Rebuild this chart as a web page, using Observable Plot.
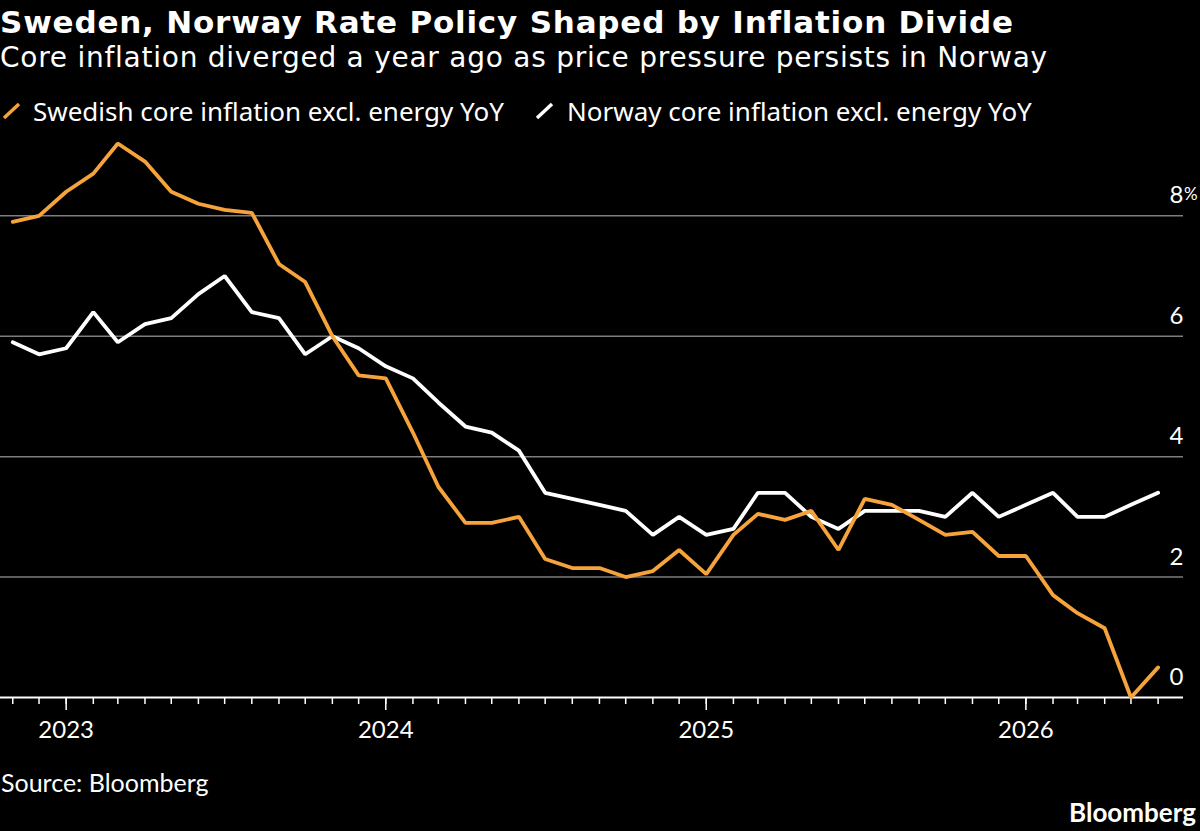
<!DOCTYPE html>
<html>
<head>
<meta charset="utf-8">
<script src="https://cdn.jsdelivr.net/npm/d3@7"></script>
<script src="https://cdn.jsdelivr.net/npm/@observablehq/plot@0.6"></script>
<style>
  html, body { margin: 0; padding: 0; background: #000; }
  #wrap { position: relative; width: 1200px; height: 831px; overflow: hidden; background: #000;
          font-family: Lato, "Noto Sans", sans-serif; color: #fff; }
  #head, #chart, #foot { position: absolute; left: 0; }
  #head { top: 0; }
  #chart { top: 131px; }
  #foot { top: 746px; }
  .title { font-family: "DejaVu Sans", sans-serif; font-weight: 700; letter-spacing: 0.8px; }
  .sub { font-family: "DejaVu Sans", sans-serif; letter-spacing: 0.75px; }
  .legend { font-family: "Noto Sans", sans-serif; }
  .foot { font-family: Lato, sans-serif; }
</style>
</head>
<body>
<div id="wrap">
  <svg id="head" width="1200" height="131"></svg>
  <div id="chart"></div>
  <svg id="foot" width="1200" height="85"></svg>
</div>
<script>
// Monthly observations, Nov 2022 through Jun 2026
const months = d3.utcMonth.range(new Date(Date.UTC(2022, 10, 1)), new Date(Date.UTC(2026, 6, 1)));

// Swedish core inflation excl. energy, YoY %
const sweden = [
  7.9, 8.0, 8.4, 8.7, 9.2, 8.9, 8.4, 8.2, 8.1, 8.05, 7.2, 6.9,
  6.0, 5.35, 5.3, 4.4, 3.5, 2.9, 2.9, 3.0, 2.3, 2.15, 2.15, 2.0,
  2.1, 2.45, 2.05, 2.7, 3.05, 2.95, 3.1, 2.45, 3.3, 3.2, 2.95, 2.7,
  2.75, 2.35, 2.35, 1.7, 1.4, 1.15, 0.0, 0.5
];

// Norway core inflation excl. energy, YoY %
const norway = [
  5.9, 5.7, 5.8, 6.4, 5.9, 6.2, 6.3, 6.7, 7.0, 6.4, 6.3, 5.7,
  6.0, 5.8, 5.5, 5.3, 4.9, 4.5, 4.4, 4.1, 3.4, 3.3, 3.2, 3.1,
  2.7, 3.0, 2.7, 2.8, 3.4, 3.4, 3.0, 2.8, 3.1, 3.1, 3.1, 3.0,
  3.4, 3.0, 3.2, 3.4, 3.0, 3.0, 3.2, 3.4
];

const seriesNames = ["Swedish core inflation excl. energy YoY", "Norway core inflation excl. energy YoY"];
const seriesColors = ["#f6a33b", "#ffffff"];
const yTicks = [0, 2, 4, 6, 8];
const yearTicks = d3.utcYear.range(new Date(Date.UTC(2023, 0, 1)), new Date(Date.UTC(2027, 0, 1)));

const title = "Sweden, Norway Rate Policy Shaped by Inflation Divide";
const subtitle = "Core inflation diverged a year ago as price pressure persists in Norway";
const source = "Source: Bloomberg";
const brand = "Bloomberg";

const swedenRows = months.map((date, i) => ({date, value: sweden[i]}));
const norwayRows = months.map((date, i) => ({date, value: norway[i]}));

const xDomain = [new Date(Date.UTC(2022, 9, 18)), new Date(Date.UTC(2026, 5, 30))];

// Header: title, subtitle, legend
const head = d3.select("#head");
head.append("text").attr("class", "title").attr("x", 0).attr("y", 32.5)
  .attr("fill", "#fff").attr("font-size", 31).text(title);
head.append("text").attr("class", "sub").attr("x", 0).attr("y", 66.5)
  .attr("fill", "#fff").attr("font-size", 28).text(subtitle);
const legendX = [[4, 33], [537, 567]];
seriesNames.forEach((name, i) => {
  const [ix, tx] = legendX[i];
  head.append("line").attr("x1", ix).attr("y1", 118).attr("x2", ix + 15).attr("y2", 104)
    .attr("stroke", seriesColors[i]).attr("stroke-width", 3.5);
  head.append("text").attr("class", "legend").attr("x", tx).attr("y", 120.5)
    .attr("fill", "#fff").attr("font-size", 26).text(name);
});

// Footer: source and brand
const foot = d3.select("#foot");
foot.append("text").attr("class", "foot").attr("x", 1).attr("y", 45.5)
  .attr("fill", "#fff").attr("font-size", 25).text(source);
foot.append("text").attr("class", "foot").attr("x", 1196).attr("y", 76).attr("text-anchor", "end")
  .attr("fill", "#fff").attr("font-size", 26).attr("font-weight", 700).text(brand);

const chart = Plot.plot({
  width: 1200,
  height: 615,
  marginTop: 0,
  marginLeft: 0,
  marginRight: 17,
  marginBottom: 49,
  style: {background: "#000", color: "#fff", fontFamily: "Lato, 'Noto Sans', sans-serif", fontSize: "24px"},
  x: {type: "utc", domain: xDomain, axis: null},
  y: {domain: [0, 9.4], axis: null},
  marks: [
    Plot.ruleY(yTicks.filter(d => d !== 0), {stroke: "#7d7d7d", strokeWidth: 1.5}),
    Plot.axisX({ticks: months, tickSize: 7, tickFormat: () => "", stroke: "#fff", strokeWidth: 1.5}),
    Plot.axisX({ticks: yearTicks, tickSize: 13, tickPadding: 10, tickFormat: "%Y", stroke: "#fff", strokeWidth: 1.5, fontSize: 24}),
    Plot.ruleY([0], {stroke: "#fff", strokeWidth: 2}),
    Plot.text(yTicks, {x: xDomain[1], y: d => d, text: d => String(d), textAnchor: "end", dy: -20, fill: "#fff", fontSize: 24}),
    Plot.text([8], {x: xDomain[1], y: d => d, text: () => "%", textAnchor: "start", dy: -21, dx: 0.5, fill: "#fff", fontSize: 17}),
    Plot.line(norwayRows, {x: "date", y: "value", stroke: seriesColors[1], strokeWidth: 3.8, strokeLinejoin: "miter"}),
    Plot.line(swedenRows, {x: "date", y: "value", stroke: seriesColors[0], strokeWidth: 3.8, strokeLinejoin: "miter"})
  ]
});
document.getElementById("chart").appendChild(chart);
</script>
</body>
</html>
